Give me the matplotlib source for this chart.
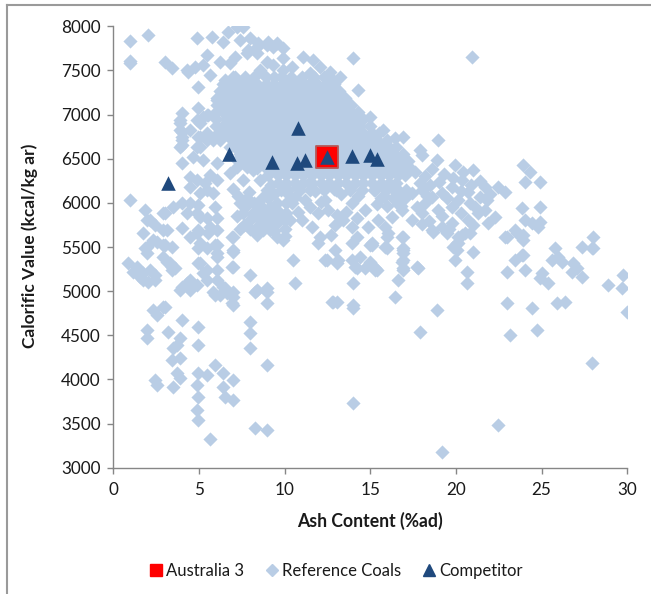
import matplotlib
matplotlib.use("Agg")
import matplotlib.pyplot as plt
from matplotlib.lines import Line2D

# ---------------- data (ash %ad, calorific value kcal/kg ar) ----------------
australia3_ash = [12.46]
australia3_cv = [6522]

competitor_ash = [3.21, 6.77, 9.28, 10.80, 10.71, 11.19, 12.46, 13.95, 14.99, 15.38]
competitor_cv = [6221, 6550, 6466, 6851, 6448, 6485, 6523, 6530, 6542, 6497]

ref_top = [(0.98, 7837), (2.04, 7905), (0.98, 7581), (1.0, 7610), (3.02, 7599), (3.41, 7524),
           (4.38, 7486), (4.96, 7316), (4.9, 7864), (5.74, 7875), (5.45, 7675), (4.77, 7542),
           (5.25, 7562), (5.65, 7448), (6.42, 7826), (6.71, 7939), (7.2, 7995), (7.59, 7995),
           (7.4, 7845), (7.98, 7864), (6.23, 7599), (6.81, 7581), (7.1, 7656), (7.79, 7694),
           (8.37, 7769), (8.95, 7788), (9.54, 7807), (9.92, 7751), (8.95, 7599), (9.92, 7637),
           (6.04, 7184), (6.81, 7259), (7.88, 7731), (8.46, 7807), (9.05, 7826), (9.34, 7769),
           (8.37, 7694), (8.56, 7505), (9.34, 7562), (9.92, 7505), (10.41, 7542), (11.09, 7656),
           (11.68, 7618), (12.07, 7542), (12.65, 7486), (13.23, 7429), (14.01, 7637), (14.3, 7278),
           (14.99, 6976), (13.23, 7184), (12.84, 7392), (11.48, 7467), (10.9, 7392), (10.02, 7392),
           (6.52, 7392), (7.0, 7429), (4.29, 7505), (20.92, 7656)]

ref_left = [(4.96, 7071), (5.45, 6995), (4.87, 6938), (3.99, 7014), (3.89, 6938), (3.89, 6825),
            (3.99, 6749), (4.48, 6825), (4.96, 6749), (5.45, 6712), (5.06, 6636), (3.99, 6655),
            (3.99, 6448), (4.67, 6523), (5.25, 6485), (6.04, 6448), (7.2, 6485), (7.59, 6579),
            (7.79, 6409), (3.89, 6901), (3.99, 6806), (3.99, 6712), (3.89, 6636), (5.25, 6976),
            (5.06, 6901), (5.55, 6995), (5.06, 6749), (5.45, 6788), (4.87, 6636), (5.84, 6712),
            (6.04, 7165), (0.98, 6032)]

ref_lowleft = [(1.85, 5919), (1.95, 5806), (2.43, 5749), (2.92, 5692), (3.02, 5881), (3.5, 5956),
               (3.99, 5994), (4.48, 5994), (4.96, 5975), (4.29, 5881), (4.87, 5881), (5.45, 5825),
               (6.04, 5825), (3.99, 5711), (4.48, 5616), (4.96, 5692), (5.55, 5655), (6.04, 5692),
               (2.34, 5579), (2.92, 5522), (3.41, 5503), (1.85, 5485), (1.95, 5428), (2.92, 5390),
               (3.31, 5315), (3.6, 5258), (4.96, 5485), (5.45, 5485), (6.04, 5522), (6.04, 5428),
               (5.06, 5315), (5.45, 5239), (6.04, 5239), (4.48, 5126), (3.99, 5050), (4.48, 5013),
               (5.45, 5126), (6.04, 5126), (6.42, 5050), (6.23, 4956), (6.62, 4975), (6.91, 4861),
               (2.92, 4823), (5.84, 4993), (0.88, 5315), (1.37, 5277), (1.75, 5201), (1.17, 5220),
               (2.14, 5239), (2.43, 5182), (2.04, 5107), (2.43, 5126), (1.75, 5126), (1.56, 5163),
               (1.95, 5503), (2.53, 5560), (3.02, 5522), (3.12, 5333), (3.41, 5277), (3.41, 5239),
               (3.89, 5013), (4.29, 5088), (4.87, 5069), (4.96, 5315), (5.25, 5201), (5.06, 5541),
               (5.94, 5522), (6.04, 5390), (5.94, 4956), (6.52, 5031), (7.0, 4993), (7.0, 4936),
               (7.0, 4842), (6.91, 5277), (7.0, 5446), (6.91, 5616), (2.34, 4786), (2.53, 4729),
               (3.02, 4823), (1.95, 4559), (1.95, 4465), (3.21, 4540), (3.99, 4673), (3.89, 4465),
               (3.5, 4352), (3.7, 4389), (3.41, 4219), (3.89, 4238), (3.7, 4068), (3.89, 4012),
               (2.43, 3993), (2.53, 3936), (3.5, 3917), (4.96, 4597), (4.96, 4389), (4.96, 4068),
               (4.87, 3936), (4.96, 3803), (4.87, 3653), (4.96, 3540), (5.45, 4049), (5.94, 4163),
               (6.42, 4068), (6.42, 3917), (6.52, 3803), (7.0, 3993), (7.0, 3766), (5.65, 3321),
               (7.98, 5182), (8.27, 4993), (8.95, 4993), (8.95, 4861), (7.98, 4654), (7.98, 4522),
               (7.98, 4352), (8.95, 4163), (8.27, 3446), (8.95, 3427), (4.48, 6296), (4.87, 6259),
               (5.35, 6221), (5.65, 6315), (6.04, 6259), (5.45, 6146), (4.48, 6183), (5.06, 6108),
               (5.84, 6108), (5.94, 5956), (5.06, 5843), (5.65, 5730), (4.87, 5655), (1.75, 5655),
               (3.12, 5692), (2.14, 5806), (2.92, 5881)]

ref_mid = [(7.0, 6153), (7.4, 5994), (7.59, 5881), (7.98, 5806), (8.37, 5730), (8.76, 5692),
           (9.15, 5692), (9.54, 5616), (9.92, 5579), (8.95, 5919), (9.54, 5994), (9.92, 5843),
           (10.32, 5806), (8.56, 6259), (8.95, 6146), (7.59, 6259), (6.81, 6334), (7.2, 6409),
           (8.17, 6372), (7.0, 5616), (7.0, 5465), (7.0, 5277), (8.37, 5013), (8.95, 5031),
           (7.3, 6080), (7.8, 6050), (8.2, 6000), (8.6, 5960), (9.0, 6050), (9.4, 6100),
           (9.8, 6150), (7.6, 5750), (8.0, 5700), (8.5, 5820), (9.0, 5800), (9.5, 5760),
           (10.0, 5700), (8.3, 5900), (9.3, 5880), (7.2, 5850), (10.1, 6000), (9.7, 5900),
           (7.7, 5950), (8.1, 5870), (8.8, 5870), (9.2, 5950), (9.6, 5830), (10.1, 5880),
           (8.4, 5640), (8.9, 5750), (9.4, 5680), (7.4, 5700), (7.9, 6120), (8.7, 6060),
           (9.2, 6200), (10.2, 6100), (10.0, 5620)]

ref_midright = [(10.41, 5994), (11.0, 5806), (11.58, 5730), (11.97, 5881), (12.55, 5919),
                (13.04, 5862), (12.07, 5616), (11.97, 5541), (12.94, 5749), (13.43, 5806),
                (13.92, 5730), (14.21, 5616), (13.92, 5541), (12.94, 5465), (13.14, 5352),
                (12.36, 5352), (14.4, 5390), (15.08, 5541), (14.99, 5333), (14.11, 5277),
                (14.69, 5258), (15.28, 5239), (15.86, 5503), (16.05, 5654), (16.84, 5616),
                (16.93, 5465), (16.93, 5352), (16.93, 5239), (17.71, 5277), (16.64, 5126),
                (16.44, 4936), (17.42, 5806), (18.0, 5881), (18.59, 5692), (19.17, 5730),
                (19.75, 5768), (20.14, 5616), (19.85, 5503), (19.95, 5352), (10.51, 5352),
                (10.61, 5088), (12.84, 4880), (14.01, 5088), (14.01, 4842), (10.02, 5806),
                (17.42, 6108), (18.0, 6146), (18.59, 6070), (19.17, 6108), (19.75, 6183),
                (20.14, 6032), (19.75, 5956), (18.97, 5919), (18.2, 5994), (16.84, 5919),
                (16.25, 5843), (15.86, 5730), (15.47, 5806), (14.89, 5730), (14.69, 5919),
                (13.92, 5994), (12.36, 6032), (11.19, 6032), (10.61, 6070), (12.75, 4880),
                (13.04, 4880), (12.46, 5352), (13.04, 5315), (13.92, 5352), (14.21, 5258),
                (14.01, 4805), (14.99, 5522), (14.99, 5315), (15.38, 5239), (14.01, 3728),
                (16.93, 5616), (16.93, 5485), (16.93, 5428), (16.84, 5333), (16.93, 5258),
                (15.96, 5616), (15.96, 5485), (15.08, 5522), (15.28, 5258), (17.8, 5258),
                (18.88, 4786), (17.9, 4540), (18.68, 5673), (19.46, 5655), (20.05, 5541),
                (20.05, 5465), (20.34, 5635), (20.82, 5655), (19.17, 3180), (22.48, 3483),
                (15.2, 6150), (15.8, 6080), (16.4, 6150), (17.0, 6050), (16.6, 5990), (15.4, 5990),
                (14.3, 6080), (13.3, 6100), (12.9, 6160), (11.8, 6140), (11.4, 6220), (10.7, 6180),
                (11.5, 5950), (12.1, 6010), (13.6, 5900), (14.2, 5830), (10.8, 5900), (12.7, 5640)]

ref_right = [(15.76, 6825), (16.44, 6731), (16.93, 6749), (17.9, 6598), (18.0, 6542), (18.97, 6712),
             (18.88, 6485), (19.95, 6429), (21.02, 6372), (23.94, 6429), (24.33, 6353), (24.03, 6240),
             (24.91, 6240), (22.48, 6183), (22.87, 6126), (23.84, 5938), (24.91, 5956), (24.03, 5806),
             (24.42, 5768), (24.91, 5786), (23.45, 5692), (23.94, 5635), (24.81, 5730), (22.87, 5616),
             (20.34, 6259), (20.72, 6126), (21.41, 6070), (21.8, 6032), (21.11, 5956), (21.7, 5919),
             (22.28, 5843), (20.72, 5806), (21.31, 5881), (21.89, 5768), (20.53, 5655), (20.14, 5541),
             (21.02, 5446), (20.63, 5220), (20.63, 5088), (25.78, 5485), (25.97, 5390), (25.59, 5352),
             (26.18, 5333), (27.34, 5503), (27.93, 5485), (28.02, 5616), (26.85, 5315), (27.05, 5258),
             (27.34, 5163), (26.76, 5220), (23.45, 5352), (23.94, 5409), (22.97, 5220), (24.03, 5239),
             (25.01, 5201), (25.4, 5088), (24.91, 5145), (29.77, 5182), (28.9, 5069), (29.68, 5031),
             (29.97, 4766), (22.97, 4869), (24.42, 4805), (25.88, 4869), (26.37, 4880), (23.16, 4503),
             (24.72, 4560), (27.93, 4182), (22.97, 5616), (23.55, 5655), (23.94, 5579), (23.84, 5409),
             (28.02, 5485), (17.6, 6350), (18.2, 6300), (18.6, 6380), (19.3, 6330), (19.8, 6280),
             (20.4, 6350), (17.9, 6220), (18.5, 6200), (19.0, 6240), (20.9, 6200), (21.4, 6250),
             (18.3, 6080), (19.5, 6050), (20.3, 6130), (20.8, 6000), (17.7, 5950), (19.2, 5850),
             (20.3, 5880), (18.4, 5800), (21.0, 5750), (19.6, 5700), (18.0, 5760), (22.0, 6100),
             (21.7, 6180)]

# dense core, read row by row: (calorific value, [ash values])
ref_core_rows = [
    (7430, [7.1, 7.7, 8.2, 8.9, 9.4, 9.8, 10.4, 11.0, 11.7, 12.3]),
    (7350, [6.4, 6.9, 7.4, 7.9, 8.4, 8.9, 9.4, 9.9, 10.4, 10.9, 11.4, 11.9, 12.4, 12.9]),
    (7270, [6.2, 6.65, 7.15, 7.65, 8.15, 8.65, 9.15, 9.65, 10.15, 10.65, 11.15, 11.65, 12.15, 12.65, 13.2]),
    (7190, [6.1, 6.4, 6.9, 7.4, 7.9, 8.4, 8.9, 9.4, 9.9, 10.4, 10.9, 11.4, 11.9, 12.4, 12.9, 13.5]),
    (7110, [6.05, 6.6, 7.1, 7.6, 8.1, 8.6, 9.1, 9.6, 10.1, 10.6, 11.1, 11.6, 12.1, 12.6, 13.1, 13.6, 13.9]),
    (7030, [6.0, 6.4, 6.9, 7.4, 7.9, 8.4, 8.9, 9.4, 9.9, 10.4, 10.9, 11.4, 11.9, 12.4, 12.9, 13.4, 13.9, 14.3]),
    (6950, [6.0, 6.6, 7.1, 7.6, 8.1, 8.6, 9.1, 9.6, 10.1, 10.6, 11.1, 11.6, 12.1, 12.6, 13.1, 13.6, 14.1, 14.6]),
    (6870, [6.0, 6.4, 6.9, 7.4, 7.9, 8.4, 8.9, 9.4, 9.9, 10.4, 10.9, 11.4, 11.9, 12.4, 12.9, 13.4, 13.9, 14.4, 15.0]),
    (6790, [6.1, 6.6, 7.1, 7.6, 8.1, 8.6, 9.1, 9.6, 10.1, 10.6, 11.1, 11.6, 12.1, 12.6, 13.1, 13.6, 14.1, 14.6, 15.1, 15.5]),
    (6710, [6.2, 6.9, 7.4, 7.9, 8.4, 8.9, 9.4, 9.9, 10.4, 10.9, 11.4, 11.9, 12.4, 12.9, 13.4, 13.9, 14.4, 14.9, 15.4, 16.0]),
    (6630, [6.8, 7.1, 7.6, 8.1, 8.6, 9.1, 9.6, 10.1, 10.6, 11.1, 11.6, 12.1, 12.6, 13.1, 13.6, 14.1, 14.6, 15.1, 15.6, 16.1, 16.5]),
    (6550, [7.4, 7.9, 8.4, 8.9, 9.4, 9.9, 10.4, 10.9, 11.4, 11.9, 12.4, 12.9, 13.4, 13.9, 14.4, 14.9, 15.4, 15.9, 16.4, 16.9]),
    (6470, [7.6, 8.1, 8.6, 9.1, 9.6, 10.1, 10.6, 11.1, 11.6, 12.1, 12.6, 13.1, 13.6, 14.1, 14.6, 15.1, 15.6, 16.1, 16.6, 17.2]),
    (6390, [8.4, 8.9, 9.4, 9.9, 10.4, 10.9, 11.4, 11.9, 12.4, 12.9, 13.4, 13.9, 14.4, 14.9, 15.4, 15.9, 16.4, 16.9, 17.3]),
    (6310, [9.0, 9.6, 10.1, 10.6, 11.1, 11.6, 12.1, 12.6, 13.1, 13.6, 14.1, 14.6, 15.1, 15.6, 16.1, 16.6, 17.0]),
    (6230, [9.6, 10.1, 10.6, 11.1, 11.6, 12.1, 12.6, 13.1, 13.6, 14.1, 14.6, 15.1, 15.6, 16.1, 16.5]),
    (6150, [10.2, 10.9, 11.5, 12.3, 13.0, 13.8, 14.5, 15.3, 15.9, 16.6, 17.1]),
    (6060, [15.6, 16.3, 16.9]),
    (5960, [16.0, 16.8]),
]

x_ticks = [0, 5, 10, 15, 20, 25, 30]
y_ticks = [3000, 3500, 4000, 4500, 5000, 5500, 6000, 6500, 7000, 7500, 8000]

# ---------------- assemble reference series ----------------
ref_points = ref_top + ref_left + ref_lowleft + ref_mid + ref_midright + ref_right
for cv, ashes in ref_core_rows:
    ref_points += [(a, cv) for a in ashes]
ref_ash = [p[0] for p in ref_points]
ref_cv = [p[1] for p in ref_points]

# ---------------- figure ----------------
FONT = ["Lato", "DejaVu Sans"]
plt.rcParams["font.family"] = FONT
W, H = 651, 594
fig = plt.figure(figsize=(W / 100, H / 100), dpi=100)

ax = fig.add_axes([113.3 / W, 1 - 467.7 / H, 514 / W, 441.4 / H])

c_ref = "#B9CDE5"
c_comp = "#1F497D"
c_aus = "#FF0000"

ax.scatter(ref_ash, ref_cv, marker="D", s=52, color=c_ref, linewidths=0, zorder=2)
ax.scatter(australia3_ash, australia3_cv, marker="s", s=230, color=c_aus,
           edgecolors="#B45A5A", linewidths=1.3, zorder=3)
ax.scatter(competitor_ash, competitor_cv, marker="^", s=110, color=c_comp, linewidths=0, zorder=4)

ax.set_xlim(0, 30)
ax.set_ylim(3000, 8000)
ax.set_xticks(x_ticks)
ax.set_yticks(y_ticks)
ax.set_xticklabels([str(t) for t in x_ticks])
ax.set_yticklabels([str(t) for t in y_ticks])

for s in ["top", "right"]:
    ax.spines[s].set_visible(False)
for s in ["left", "bottom"]:
    ax.spines[s].set_color("#868686")
    ax.spines[s].set_linewidth(1.0)
ax.tick_params(axis="both", direction="out", length=4.5, width=1.0, color="#868686",
               labelsize=12.3, labelcolor="#1a1a1a")
ax.tick_params(axis="y", pad=4.5)
ax.tick_params(axis="x", pad=5.5)

fig.text(370.3 / W, 1 - 521 / H, "Ash Content (%ad)", ha="center", va="center",
         fontsize=12.7, fontweight="bold", color="#1a1a1a")
fig.text(30 / W, 1 - 246 / H, "Calorific Value (kcal/kg ar)", ha="center", va="center",
         rotation=90, fontsize=12.5, fontweight="bold", color="#1a1a1a")

handles = [
    Line2D([], [], linestyle="none", marker="s", markersize=8, color=c_aus),
    Line2D([], [], linestyle="none", marker="D", markersize=6.5, color=c_ref),
    Line2D([], [], linestyle="none", marker="^", markersize=8.5, color=c_comp),
]
fig.legend(handles, ["Australia 3", "Reference Coals", "Competitor"], loc="center",
           bbox_to_anchor=(336 / W, 1 - 571 / H), ncol=3, frameon=False, fontsize=12,
           handlelength=0.8, handletextpad=0.2, columnspacing=1.3, labelcolor="#1a1a1a")

# outer chart border (top and left edges visible)
fig.add_artist(Line2D([7 / W, 1.0], [1 - 5 / H, 1 - 5 / H], transform=fig.transFigure,
                      color="#9a9a9a", linewidth=1.5))
fig.add_artist(Line2D([7 / W, 7 / W], [0.0, 1 - 5 / H], transform=fig.transFigure,
                      color="#9a9a9a", linewidth=1.5))

fig.savefig("out.png", dpi=100)
